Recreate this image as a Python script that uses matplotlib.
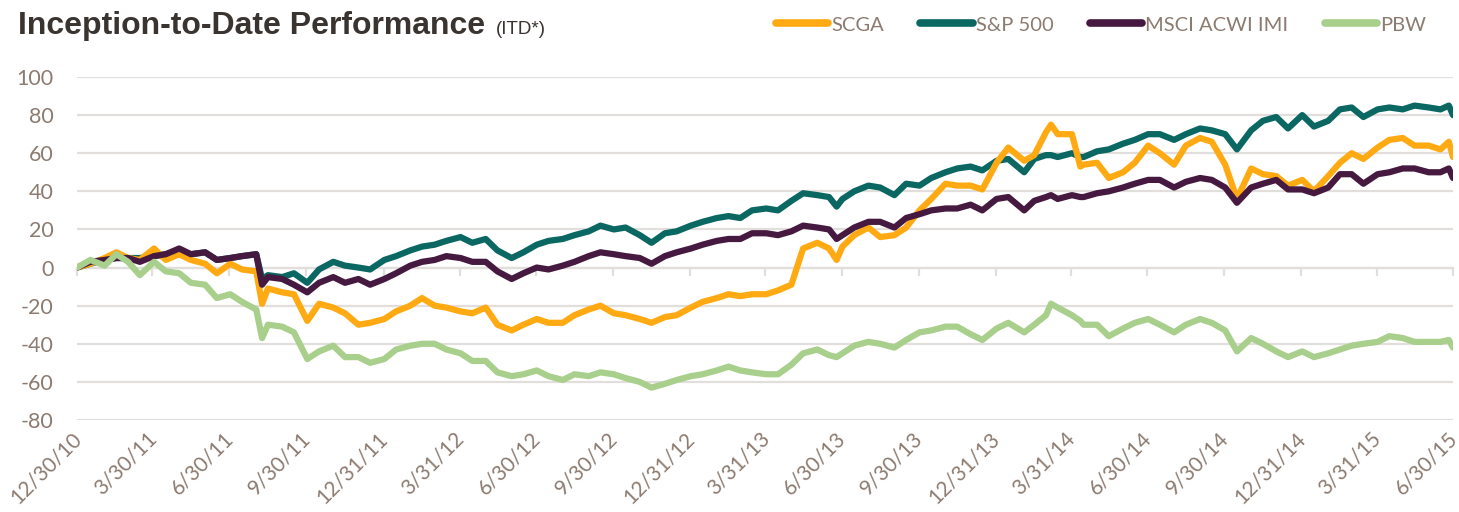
import matplotlib
matplotlib.use("Agg")
import matplotlib.pyplot as plt
import matplotlib.dates as mdates
import matplotlib.transforms as mtransforms
import pandas as pd

# Даты (примерно раз в полмесяца, плюс отдельные точки на резких движениях)
dates = [
    "2010-12-30", "2011-01-15", "2011-02-01", "2011-02-15", "2011-03-01", "2011-03-15",
    "2011-04-01", "2011-04-15", "2011-05-01", "2011-05-15", "2011-06-01", "2011-06-15",
    "2011-07-01", "2011-07-15", "2011-08-01", "2011-08-08", "2011-08-15", "2011-09-01",
    "2011-09-15", "2011-10-01", "2011-10-15", "2011-11-01", "2011-11-15", "2011-12-01",
    "2011-12-15",
    "2012-01-01", "2012-01-15", "2012-02-01", "2012-02-15", "2012-03-01", "2012-03-15",
    "2012-04-01", "2012-04-15", "2012-05-01", "2012-05-15", "2012-06-01", "2012-06-15",
    "2012-07-01", "2012-07-15", "2012-08-01", "2012-08-15", "2012-09-01", "2012-09-15",
    "2012-10-01", "2012-10-15", "2012-11-01", "2012-11-15", "2012-12-01", "2012-12-15",
    "2013-01-01", "2013-01-15", "2013-02-01", "2013-02-15", "2013-03-01", "2013-03-15",
    "2013-04-01", "2013-04-15", "2013-05-01", "2013-05-15", "2013-06-01", "2013-06-15",
    "2013-06-24", "2013-07-01", "2013-07-15", "2013-08-01", "2013-08-15", "2013-09-01",
    "2013-09-15", "2013-10-01", "2013-10-15", "2013-11-01", "2013-11-15", "2013-12-01",
    "2013-12-15",
    "2014-01-01", "2014-01-15", "2014-02-03", "2014-02-15", "2014-03-01", "2014-03-07",
    "2014-03-15", "2014-04-01", "2014-04-11", "2014-04-15", "2014-05-01", "2014-05-15",
    "2014-06-01", "2014-06-15", "2014-07-01", "2014-07-15", "2014-08-01", "2014-08-15",
    "2014-09-01", "2014-09-15", "2014-10-01", "2014-10-15", "2014-11-01", "2014-11-15",
    "2014-12-01", "2014-12-15",
    "2015-01-01", "2015-01-15", "2015-02-01", "2015-02-15", "2015-03-01", "2015-03-15",
    "2015-04-01", "2015-04-15", "2015-05-01", "2015-05-15", "2015-06-01", "2015-06-15",
    "2015-06-25", "2015-06-30",
]

scga = [
    0, 2, 5, 8, 5, 4, 10, 4, 7, 4, 2, -3, 2, -1, -2, -19, -11, -13, -14, -28, -19, -21, -24, -30, -29,
    -27, -23, -20, -16, -20, -21, -23, -24, -21, -30, -33, -30, -27, -29, -29, -25, -22, -20, -24, -25,
    -27, -29, -26, -25,
    -21, -18, -16, -14, -15, -14, -14, -12, -9, 10, 13, 10, 4, 11, 17, 21, 16, 17, 21, 30, 36, 44, 43,
    43, 41,
    55, 63, 56, 59, 71, 75, 70, 70, 53, 54, 55, 47, 50, 55, 64, 60, 54, 64, 68, 66, 54, 36, 52, 49, 48, 43,
    46, 40, 48, 55, 60, 57, 63, 67, 68, 64, 64, 62, 66, 58,
]

sp500 = [
    0, 2, 4, 5, 5, 5, 6, 7, 9, 7, 8, 4, 5, 6, 7, -6, -4, -5, -3, -8, -1, 3, 1, 0, -1,
    4, 6, 9, 11, 12, 14, 16, 13, 15, 9, 5, 8, 12, 14, 15, 17, 19, 22, 20, 21, 17, 13, 18, 19,
    22, 24, 26, 27, 26, 30, 31, 30, 35, 39, 38, 37, 32, 36, 40, 43, 42, 38, 44, 43, 47, 50, 52, 53, 51,
    56, 57, 50, 57, 59, 59, 58, 60, 58, 58, 61, 62, 65, 67, 70, 70, 67, 70, 73, 72, 70, 62, 72, 77, 79, 73,
    80, 74, 77, 83, 84, 79, 83, 84, 83, 85, 84, 83, 85, 80,
]

msci = [
    0, 3, 4, 5, 5, 3, 6, 7, 10, 7, 8, 4, 5, 6, 7, -9, -5, -6, -9, -13, -8, -5, -8, -6, -9,
    -6, -3, 1, 3, 4, 6, 5, 3, 3, -2, -6, -3, 0, -1, 1, 3, 6, 8, 7, 6, 5, 2, 6, 8,
    10, 12, 14, 15, 15, 18, 18, 17, 19, 22, 21, 20, 15, 17, 21, 24, 24, 21, 26, 28, 30, 31, 31, 33, 30,
    36, 37, 30, 35, 37, 38, 36, 38, 37, 37, 39, 40, 42, 44, 46, 46, 42, 45, 47, 46, 42, 34, 42, 44, 46, 41,
    41, 39, 42, 49, 49, 44, 49, 50, 52, 52, 50, 50, 52, 47,
]

pbw = [
    0, 4, 1, 7, 3, -4, 3, -2, -3, -8, -9, -16, -14, -18, -22, -37, -30, -31, -34, -48, -44, -41, -47,
    -47, -50,
    -48, -43, -41, -40, -40, -43, -45, -49, -49, -55, -57, -56, -54, -57, -59, -56, -57, -55, -56, -58,
    -60, -63, -61, -59,
    -57, -56, -54, -52, -54, -55, -56, -56, -51, -45, -43, -46, -47, -45, -41, -39, -40, -42, -38, -34,
    -33, -31, -31, -35, -38,
    -32, -29, -34, -30, -25, -19, -21, -25, -28, -30, -30, -36, -32, -29, -27, -30, -34, -30, -27, -29,
    -33, -44, -37, -40, -44, -47,
    -44, -47, -45, -43, -41, -40, -39, -36, -37, -39, -39, -39, -38, -42,
]

tick_dates = ["2010-12-30", "2011-03-30", "2011-06-30", "2011-09-30", "2011-12-31",
              "2012-03-31", "2012-06-30", "2012-09-30", "2012-12-31", "2013-03-31",
              "2013-06-30", "2013-09-30", "2013-12-31", "2014-03-31", "2014-06-30",
              "2014-09-30", "2014-12-31", "2015-03-31", "2015-06-30"]
tick_labels = ["12/30/10", "3/30/11", "6/30/11", "9/30/11", "12/31/11", "3/31/12",
               "6/30/12", "9/30/12", "12/31/12", "3/31/13", "6/30/13", "9/30/13",
               "12/31/13", "3/31/14", "6/30/14", "9/30/14", "12/31/14", "3/31/15", "6/30/15"]

series = [
    ("S&P 500", sp500, "#0b6762"),
    ("SCGA", scga, "#ffaa12"),
    ("MSCI ACWI IMI", msci, "#461a40"),
    ("PBW", pbw, "#a8cf8b"),
]
legend_order = ["SCGA", "S&P 500", "MSCI ACWI IMI", "PBW"]

TEXT = "#8c7b70"
GRID = "#e2dedb"

plt.rcParams["font.family"] = ["Lato", "DejaVu Sans"]
plt.rcParams["axes.unicode_minus"] = False

x = mdates.date2num(pd.to_datetime(dates))
ticks = mdates.date2num(pd.to_datetime(tick_dates))

fig = plt.figure(figsize=(14.59, 5.12), dpi=100)
ax = fig.add_axes([77 / 1459, 1 - 420 / 512, 1376 / 1459, 343 / 512])

lines = {}
for name, vals, color in series:
    (ln,) = ax.plot(x, vals, color=color, lw=4.5, solid_joinstyle="round",
                    solid_capstyle="round", label=name)
    lines[name] = ln

ax.set_xlim(ticks[0], ticks[-1])
ax.set_ylim(-80, 100)
ax.set_yticks(range(-80, 101, 20))
ax.grid(axis="y", color=GRID, lw=1.6)
ax.set_axisbelow(True)
for s in ["left", "right", "top"]:
    ax.spines[s].set_visible(False)
ax.spines["bottom"].set_position(("data", 0))
ax.spines["bottom"].set_color(GRID)
ax.spines["bottom"].set_linewidth(1.6)
ax.spines["bottom"].set_zorder(0.5)
ax.set_xticks(ticks)
ax.tick_params(axis="x", length=6, width=1.6, color=GRID, labelbottom=False)
ax.tick_params(axis="y", length=0, pad=17, labelsize=15.5, labelcolor=TEXT)

# подписи дат внизу - отдельная ось, т.к. сами засечки стоят на нуле
ax2 = ax.twiny()
ax2.set_xlim(ticks[0], ticks[-1])
ax2.xaxis.set_ticks_position("bottom")
ax2.set_xticks(ticks)
ax2.set_xticklabels(tick_labels, rotation=45, ha="right", va="top",
                    rotation_mode="anchor", fontsize=15, color=TEXT)
ax2.tick_params(axis="x", length=0, pad=6)
shift = mtransforms.ScaledTranslation(-6 / 100, 0, fig.dpi_scale_trans)
for lbl in ax2.get_xticklabels():
    lbl.set_transform(lbl.get_transform() + shift)
for s in ax2.spines.values():
    s.set_visible(False)

fig.text(18 / 1459, 1 - 34 / 512, "Inception-to-Date Performance",
         family=["Liberation Sans", "DejaVu Sans"], weight="bold",
         fontsize=23, color="#3a3431", va="baseline")
fig.text(496 / 1459, 1 - 34 / 512, "(ITD*)",
         family=["Liberation Sans", "DejaVu Sans"], fontsize=13.5,
         color="#3a3431", va="baseline")

handles = []
for name in legend_order:
    ln = lines[name]
    h = plt.Line2D([], [], color=ln.get_color(), lw=5.5, solid_capstyle="round")
    handles.append(h)
leg = fig.legend(handles, legend_order, loc="center right",
                 bbox_to_anchor=(1426 / 1459, 1 - 25 / 512), ncol=4, frameon=False,
                 fontsize=14.5, handlelength=2.6, handletextpad=0.15,
                 columnspacing=1.8, borderpad=0, borderaxespad=0)
for t in leg.get_texts():
    t.set_color(TEXT)

fig.savefig("out.png", dpi=100)
